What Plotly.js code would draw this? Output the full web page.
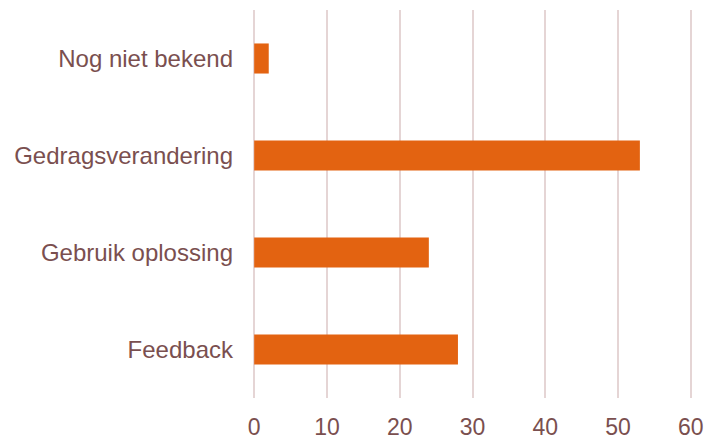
<!DOCTYPE html>
<html>
<head>
<meta charset="utf-8">
<script src="https://cdn.plot.ly/plotly-3.0.1.min.js"></script>
<style>html,body{margin:0;padding:0;background:#fff;}#chart{width:705px;height:439px;}</style>
</head>
<body>
<div id="chart"></div>
<script>
const categories = ["Feedback", "Gebruik oplossing", "Gedragsverandering", "Nog niet bekend"];
const values = [28, 24, 53, 2];
const xTicks = [0, 10, 20, 30, 40, 50, 60];

const textColor = "#7a4f4f";
const data = [{
  type: "bar",
  orientation: "h",
  y: categories,
  x: values,
  width: 0.31,
  marker: {color: "#e36311"},
  hoverinfo: "x+y"
}];
const layout = {
  width: 705, height: 439,
  margin: {l: 252, r: 12, t: 10, b: 41},
  paper_bgcolor: "#fff", plot_bgcolor: "#fff",
  font: {family: "Arial", size: 23, color: textColor},
  showlegend: false,
  xaxis: {
    range: [-0.3, 60.3],
    tickvals: xTicks,
    ticktext: xTicks.map(String),
    showgrid: true, gridcolor: "#e5d5d5", gridwidth: 2,
    zeroline: false, showline: false,
    ticks: "", ticklabelstandoff: 13,
    tickfont: {family: "Arial", size: 23, color: textColor},
    fixedrange: true
  },
  yaxis: {
    type: "category",
    categoryorder: "array", categoryarray: categories,
    range: [-0.5, 3.5],
    showgrid: false, zeroline: false, showline: false,
    ticks: "", ticklabelstandoff: 18,
    tickfont: {family: "Arial", size: 24, color: textColor},
    fixedrange: true
  }
};
Plotly.newPlot("chart", data, layout, {displayModeBar: false, staticPlot: true});
</script>
</body>
</html>
